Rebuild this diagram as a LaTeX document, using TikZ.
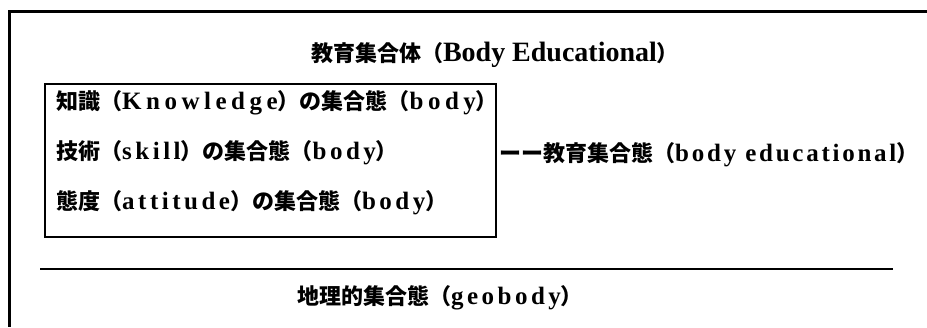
\documentclass[tikz,border=0pt]{standalone}
\usepackage{fontspec}
\setmainfont{Liberation Serif}
\newfontfamily\jpfont{Noto Sans CJK JP}
\newfontfamily\latsp[LetterSpace=14]{Liberation Serif}
\newfontfamily\latwide[LetterSpace=18]{Liberation Serif}
\newfontfamily\latnarrow[LetterSpace=11]{Liberation Serif}
\newcommand\Jp[1]{{\jpfont\bfseries\fontsize{22}{25}\selectfont #1}}
\newcommand\Ls[1]{{\latsp\bfseries\fontsize{25}{25}\selectfont #1}}
\newcommand\Lw[1]{{\latwide\bfseries\fontsize{25}{25}\selectfont #1}}
\newcommand\Ln[1]{{\latnarrow\bfseries\fontsize{25}{25}\selectfont #1}}
\newcommand\Lt[1]{{\bfseries\fontsize{28}{28}\selectfont #1}}
\tikzset{
  txt/.style={inner sep=0pt, font=\fontsize{22}{25}\selectfont\bfseries},
  frame/.style={line width=3pt},
  boxline/.style={line width=2.5pt}
}
\begin{document}
\begin{tikzpicture}[x=1pt,y=-1pt]
\useasboundingbox (0,0) rectangle (927,327);
\draw[frame] (927,11.5) -- (9,11.5) -- (9,327);
\node[txt] (title) at (495,55) {\Jp{教育集合体（}\Lt{Body Educational}\Jp{）}};
\draw[boxline] (45,84) rectangle (496,237);
\coordinate (boxR) at (496,155);
\node[txt, anchor=west] (k) at (56,103) {\Jp{知識（}\Lw{Knowledge}\Jp{）の集合態（}\Lw{body}\Jp{）}};
\node[txt, anchor=west] (s) at (56,153) {\Jp{技術（}\Ls{skill}\Jp{）の集合態（}\Ls{body}\Jp{）}};
\node[txt, anchor=west] (a) at (56,203) {\Jp{態度（}\Ls{attitude}\Jp{）の集合態（}\Ls{body}\Jp{）}};
\node[txt, anchor=west] (edu) at ([xshift=3pt]boxR) {\Jp{ーー教育集合態（}\Ln{body educational}\Jp{）}};
\draw[boxline] (40,269) -- (893,269);
\node[txt] (geo) at (440,298) {\Jp{地理的集合態（}\Ls{geobody}\Jp{）}};
\end{tikzpicture}
\end{document}
